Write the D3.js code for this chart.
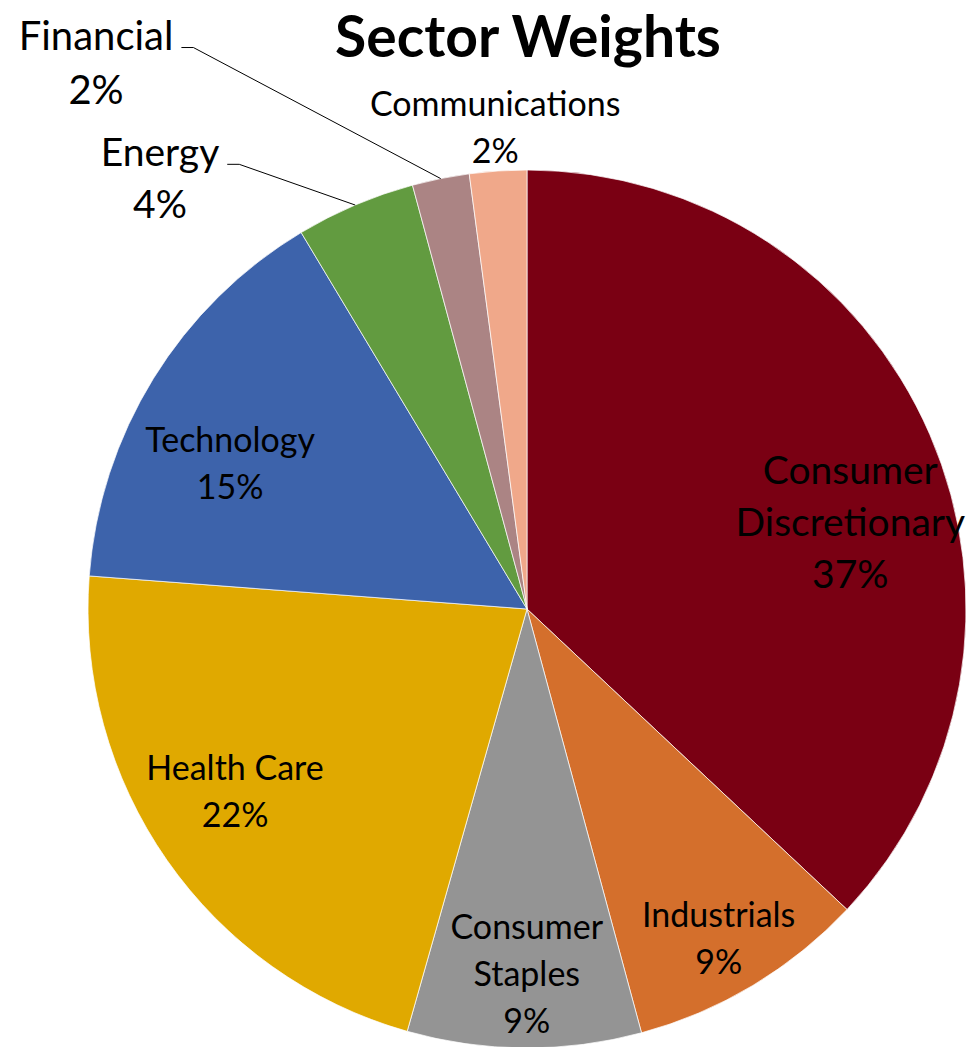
<!DOCTYPE html>
<html>
<head>
<meta charset="utf-8">
<script src="https://cdn.jsdelivr.net/npm/d3@7"></script>
<style>
  html, body { margin: 0; padding: 0; background: #fff; }
  svg { display: block; font-family: Lato, "Open Sans", sans-serif; }
</style>
</head>
<body>
<svg id="chart" width="969" height="1047"></svg>
<script>
// chart data
const sectors = ["Consumer Discretionary", "Industrials", "Consumer Staples", "Health Care",
  "Technology", "Energy", "Financial", "Communications"];
const weights = [37.0, 8.8, 8.6, 21.8, 15.2, 4.4, 2.1, 2.1];
const labelLines = [["Consumer", "Discretionary"], ["Industrials"], ["Consumer", "Staples"],
  ["Health Care"], ["Technology"], ["Energy"], ["Financial"], ["Communications"]];
const colors = ["#7a0013", "#d46f2c", "#949494", "#e0a900", "#3d63ab", "#629b40", "#ab8484", "#f0a88a"];

// label placement: inside labels sit on an arc at 0.8r, outside ones at 1.1r, then nudged
const outside = { "Energy": true, "Financial": true, "Communications": true };
const nudge = {
  "Consumer Discretionary": [1, 53], "Industrials": [11, 28], "Consumer Staples": [2, 14],
  "Health Care": [-4, -18], "Technology": [2, 39], "Energy": [-178, 14],
  "Financial": [-336, -73], "Communications": [0, 0]
};
const fontSize = { "Consumer Discretionary": 39, "Energy": 39, "Financial": 40 };
const lineGap = { "Consumer Discretionary": 52, "Energy": 52, "Financial": 54 };

const svg = d3.select("#chart");
const cx = 527, cy = 609, radius = 439;

svg.append("text")
  .attr("x", 528)
  .attr("y", 57)
  .attr("text-anchor", "middle")
  .attr("font-weight", "bold")
  .attr("font-size", 57)
  .attr("fill", "#000")
  .text("Sector Weights");

const data = sectors.map((s, i) => ({ sector: s, value: weights[i], lines: labelLines[i], color: colors[i] }));

const pie = d3.pie().sort(null).value(d => d.value);
const arcs = pie(data);

const arc = d3.arc().innerRadius(0).outerRadius(radius);
const edgeArc = d3.arc().innerRadius(radius).outerRadius(radius);
const inArc = d3.arc().innerRadius(radius * 0.8).outerRadius(radius * 0.8);
const outArc = d3.arc().innerRadius(radius * 1.1).outerRadius(radius * 1.1);

const g = svg.append("g").attr("transform", `translate(${cx},${cy})`);

g.selectAll("path.slice")
  .data(arcs)
  .enter()
  .append("path")
  .attr("class", "slice")
  .attr("d", arc)
  .attr("fill", d => d.data.color)
  .attr("stroke", "rgba(255,255,255,0.7)")
  .attr("stroke-width", 1);

const labels = g.selectAll("g.label")
  .data(arcs)
  .enter()
  .append("g")
  .attr("class", "label")
  .each(function (d) {
    const name = d.data.sector;
    const base = outside[name] ? outArc.centroid(d) : inArc.centroid(d);
    const [nx, ny] = nudge[name];
    const x = base[0] + nx, y = base[1] + ny;
    const fs = fontSize[name] || 34;
    const gap = lineGap[name] || 47;
    const lines = d.data.lines.concat([Math.round(d.data.value) + "%"]);
    const top = y - gap * (lines.length - 1) / 2;

    const t = d3.select(this).append("text")
      .attr("text-anchor", "middle")
      .attr("font-size", fs)
      .attr("fill", "#000");
    lines.forEach((ln, i) => {
      t.append("tspan")
        .attr("x", x)
        .attr("y", top + i * gap)
        .attr("dy", "0.35em")
        .text(ln);
    });

    // leader line for the small outside labels that sit away from their slice
    if (outside[name] && name !== "Communications") {
      const w = t.select("tspan").node().getComputedTextLength();
      const ly = top + fs * 0.3;
      const x0 = x + w / 2 + 8;
      const edge = edgeArc.centroid(d);
      d3.select(this).append("polyline")
        .attr("points", [[x0, ly], [x0 + 12, ly], edge].map(p => p.join(",")).join(" "))
        .attr("fill", "none")
        .attr("stroke", "#000")
        .attr("stroke-width", 1);
    }
  });
</script>
</body>
</html>
